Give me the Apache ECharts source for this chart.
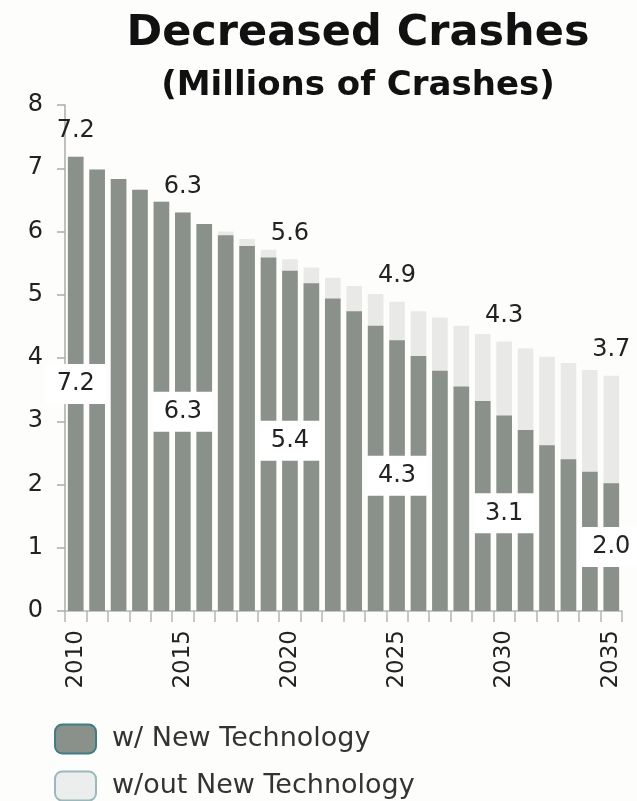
<!DOCTYPE html>
<html>
<head>
<meta charset="utf-8">
<script src="https://cdn.jsdelivr.net/npm/echarts@6/dist/echarts.min.js"></script>
<style>
html,body{margin:0;padding:0;background:#fdfdfc;}
#chart{width:637px;height:801px;}
</style>
</head>
<body>
<div id="chart"></div>
<script>
const years = ['2010','2011','2012','2013','2014','2015','2016','2017','2018','2019','2020','2021','2022','2023','2024','2025','2026','2027','2028','2029','2030','2031','2032','2033','2034','2035'];
const withTech = [7.18, 6.98, 6.83, 6.66, 6.47, 6.30, 6.12, 5.94, 5.77, 5.59, 5.38, 5.18, 4.94, 4.74, 4.51, 4.28, 4.03, 3.80, 3.55, 3.32, 3.09, 2.86, 2.62, 2.40, 2.20, 2.02];
const withoutTech = [7.18, 6.98, 6.83, 6.66, 6.47, 6.30, 6.12, 6.00, 5.88, 5.71, 5.56, 5.43, 5.27, 5.14, 5.01, 4.89, 4.74, 4.64, 4.51, 4.38, 4.26, 4.15, 4.02, 3.92, 3.81, 3.72];
const labeledYears = ['2010','2015','2020','2025','2030','2035'];
const yTicks = [0, 1, 2, 3, 4, 5, 6, 7, 8];
const seriesNames = ['w/ New Technology', 'w/out New Technology'];

const DARK = '#8a918b';
const LIGHT = '#e9eae8';

const chart = echarts.init(document.getElementById('chart'), null, {renderer: 'canvas'});

const lightData = withoutTech.map((v, i) => ({
  value: v,
  label: {show: labeledYears.includes(years[i])}
}));
const darkData = withTech.map((v, i) => ({
  value: v,
  label: {show: labeledYears.includes(years[i])}
}));

const legendBase = {
  orient: 'vertical',
  left: 54,
  padding: 0,
  itemWidth: 41, itemHeight: 29,
  icon: 'roundRect'
};

chart.setOption({
  backgroundColor: '#fdfdfc',
  animation: false,
  title: [
    {
      text: 'Decreased Crashes',
      left: 353, top: 7, textAlign: 'center',
      textStyle: {fontFamily: 'DejaVu Sans', fontWeight: 'bold', fontSize: 43, color: '#111', lineHeight: 43}
    },
    {
      text: '(Millions of Crashes)',
      left: 353, top: 62, textAlign: 'center',
      textStyle: {fontFamily: 'DejaVu Sans', fontWeight: 'bold', fontSize: 34, color: '#111', lineHeight: 38}
    }
  ],
  legend: [
    Object.assign({}, legendBase, {
      top: 716,
      textStyle: {fontFamily: 'DejaVu Sans', fontSize: 27, color: '#333', lineHeight: 30, padding: [16, 0, 0, 11]},
      data: [{name: seriesNames[0], itemStyle: {color: DARK, borderColor: '#3f7c84', borderWidth: 2}}]
    }),
    Object.assign({}, legendBase, {
      top: 768,
      textStyle: {fontFamily: 'DejaVu Sans', fontSize: 27, color: '#333', lineHeight: 30, padding: [6, 0, 0, 11]},
      data: [{name: seriesNames[1], itemStyle: {color: '#eceeed', borderColor: '#9bb9bc', borderWidth: 2}}]
    })
  ],
  grid: {left: 65, right: 15, top: 105, bottom: 190, containLabel: false},
  xAxis: {
    type: 'category',
    data: years,
    boundaryGap: true,
    axisLine: {show: true, lineStyle: {color: '#b5b5b5', width: 1.5}},
    axisTick: {show: true, interval: 0, length: 11, lineStyle: {color: '#b5b5b5', width: 1.5}},
    axisLabel: {
      interval: 4, rotate: 90, margin: 19,
      fontFamily: 'DejaVu Sans', fontSize: 23, color: '#222'
    }
  },
  yAxis: {
    type: 'value',
    min: yTicks[0], max: yTicks[yTicks.length - 1], interval: 1,
    axisLine: {show: true, lineStyle: {color: '#ababab', width: 1.5}},
    axisTick: {show: true, length: 8, lineStyle: {color: '#ababab', width: 1.5}},
    splitLine: {show: false},
    axisLabel: {margin: 22, fontFamily: 'DejaVu Sans', fontSize: 24, color: '#222'}
  },
  series: [
    {
      name: seriesNames[1],
      type: 'bar',
      data: lightData,
      barCategoryGap: '27%',
      barGap: '-100%',
      z: 2,
      itemStyle: {color: LIGHT},
      label: {
        position: 'top', distance: 14,
        fontFamily: 'DejaVu Sans', fontSize: 24, color: '#222',
        formatter: p => p.value.toFixed(1)
      }
    },
    {
      name: seriesNames[0],
      type: 'bar',
      data: darkData,
      barCategoryGap: '27%',
      barGap: '-100%',
      z: 3,
      itemStyle: {color: DARK},
      label: {
        position: 'inside',
        fontFamily: 'DejaVu Sans', fontSize: 24, color: '#222',
        backgroundColor: '#ffffff',
        padding: [9, 11, 7, 11],
        formatter: p => p.value.toFixed(1)
      }
    }
  ]
});
</script>
</body>
</html>
